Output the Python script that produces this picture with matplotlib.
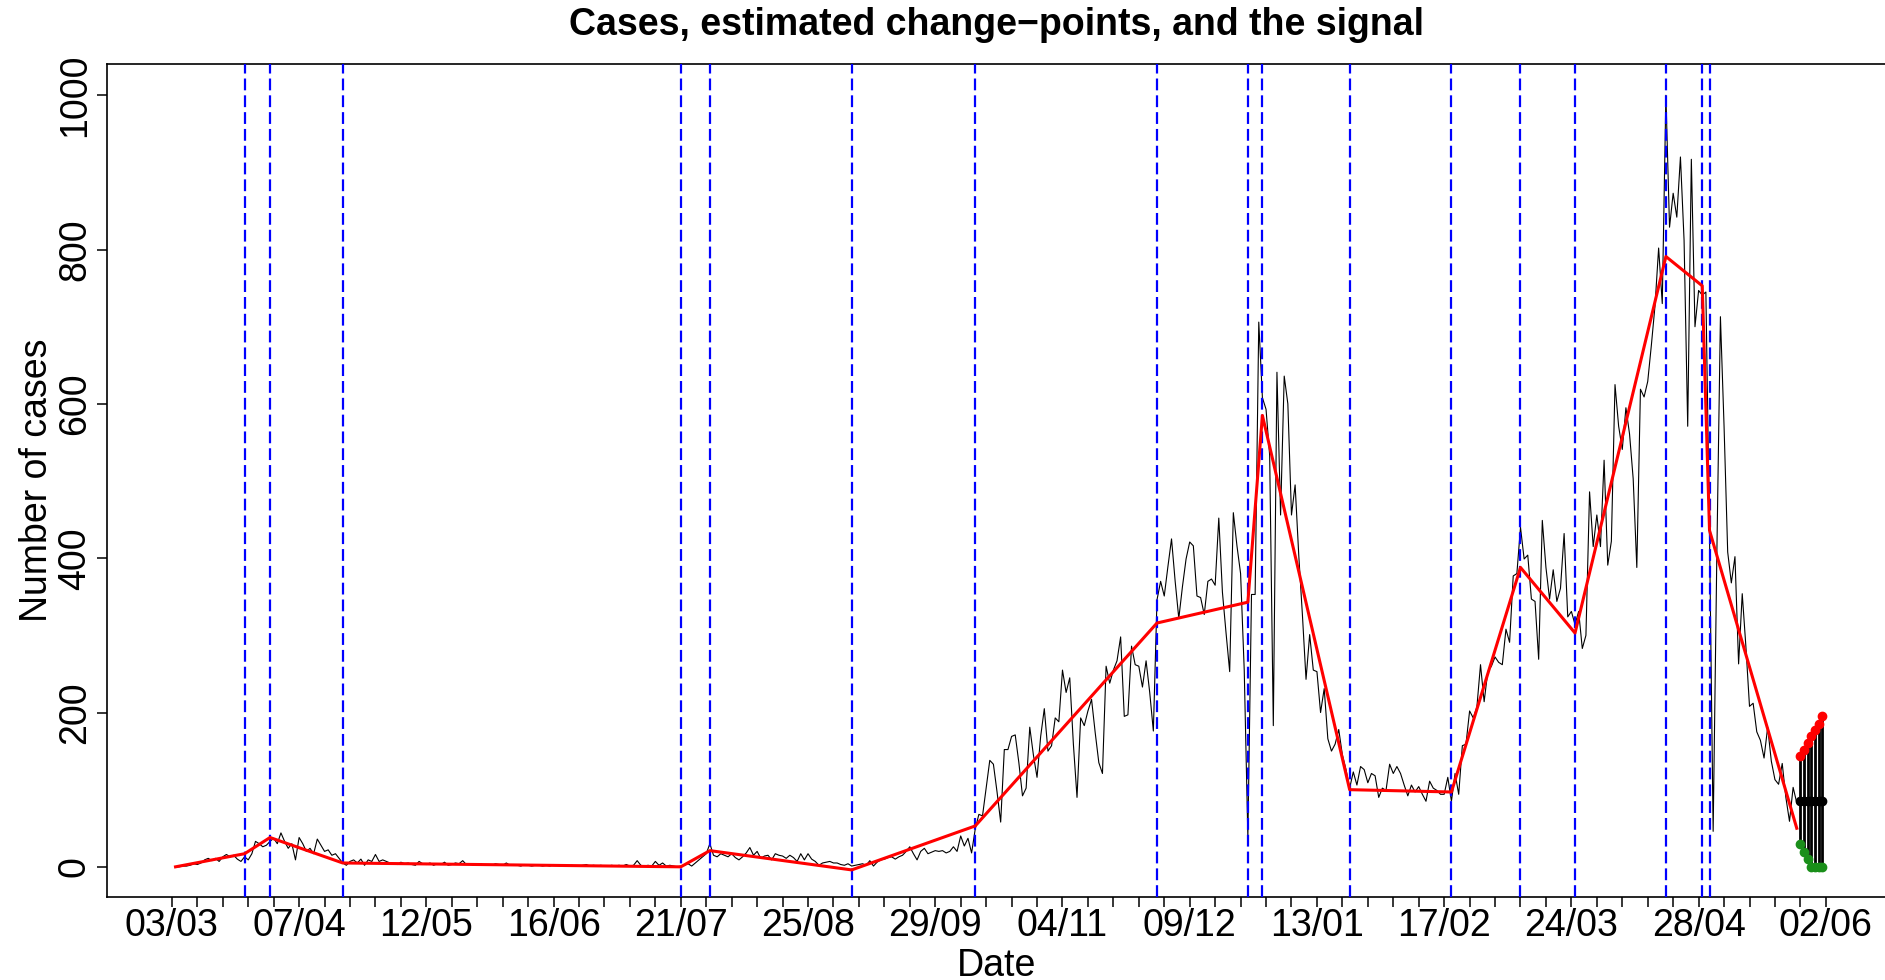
import numpy as np
import matplotlib
matplotlib.use("Agg")
import matplotlib.pyplot as plt
from matplotlib.ticker import FixedLocator, NullFormatter

# ---------------- data ----------------
# days counted from 03/03/2020 (day 0); daily cases start on day 1
first_case_day = 1
cases = [
    0, 0, 1, 1, 2, 4, 3, 5, 9, 11,
    8, 11, 7, 13, 16, 13, 15, 10, 7, 13,
    9, 17, 33, 30, 26, 28, 33, 37, 30, 44,
    33, 24, 30, 9, 38, 30, 20, 24, 17, 36,
    28, 20, 22, 15, 17, 11, 5, 2, 7, 9,
    5, 10, 2, 9, 7, 16, 7, 9, 7, 5,
    4, 3, 6, 4, 5, 3, 2, 7, 4, 3,
    5, 2, 4, 3, 6, 2, 3, 5, 4, 8,
    3, 4, 2, 3, 4, 2, 3, 2, 4, 3,
    2, 5, 2, 3, 2, 1, 3, 2, 1, 2,
    2, 1, 2, 1, 3, 2, 1, 2, 1, 2,
    1, 1, 2, 3, 1, 2, 1, 2, 1, 1,
    2, 1, 2, 1, 3, 1, 2, 8, 2, 1,
    2, 1, 7, 2, 5, 1, 2, 1, 0, 1,
    2, 4, 1, 5, 9, 13, 17, 30, 15, 13,
    17, 15, 13, 17, 12, 9, 13, 18, 25, 15,
    20, 11, 14, 15, 9, 17, 15, 14, 11, 15,
    12, 7, 17, 9, 17, 10, 7, 2, 5, 6,
    7, 5, 5, 3, 2, 4, 1, 2, 3, 4,
    2, 8, 1, 6, 9, 10, 12, 13, 10, 13,
    15, 20, 26, 17, 9, 20, 24, 17, 19, 21,
    20, 21, 18, 20, 26, 20, 40, 27, 37, 18,
    49, 68, 66, 102, 138, 133, 97, 58, 152, 152,
    169, 171, 135, 92, 102, 181, 145, 116, 169, 205,
    150, 157, 193, 188, 255, 226, 245, 159, 90, 193,
    183, 202, 217, 174, 135, 121, 260, 238, 255, 267,
    298, 195, 197, 286, 262, 260, 233, 267, 226, 176,
    346, 370, 351, 389, 425, 370, 322, 363, 399, 421,
    416, 351, 349, 327, 370, 373, 365, 452, 356, 303,
    253, 459, 416, 380, 255, 39, 353, 353, 706, 608,
    593, 533, 183, 641, 456, 636, 600, 456, 495, 404,
    327, 243, 301, 255, 253, 200, 231, 166, 150, 159,
    178, 145, 126, 102, 123, 106, 130, 126, 109, 121,
    118, 90, 102, 99, 133, 121, 130, 121, 106, 92,
    106, 97, 104, 94, 85, 111, 102, 99, 94, 94,
    116, 85, 121, 94, 157, 159, 202, 193, 207, 262,
    214, 253, 260, 272, 265, 262, 308, 291, 377, 380,
    440, 399, 404, 347, 344, 269, 449, 388, 347, 385,
    344, 361, 432, 324, 331, 314, 331, 283, 300, 486,
    415, 456, 415, 527, 391, 422, 625, 571, 541, 595,
    561, 503, 388, 619, 609, 629, 676, 727, 802, 730,
    1000, 829, 873, 842, 920, 812, 571, 917, 700, 747,
    741, 745, 430, 46, 400, 713, 571, 408, 368, 402,
    263, 354, 286, 208, 212, 175, 164, 141, 181, 137,
    113, 107, 134, 90, 59, 103, 83,
]

change_points = [20, 27, 47, 140, 148, 187, 221, 271, 296, 300,
                 324, 352, 371, 386, 411, 421, 423]

signal_days = [1, 20, 27, 47, 140, 148, 187, 221, 271, 296, 300,
               324, 352, 371, 386, 411, 421, 423, 447]
signal_vals = [0, 17, 38, 5, 0, 21, -4, 53, 316, 343, 585,
               100, 97, 388, 303, 791, 753, 436, 50]

forecast_days = [448, 449, 450, 451, 452, 453, 454]
forecast_upper = [143, 151, 160, 169, 177, 185, 195]
forecast_mid = [85, 85, 85, 85, 85, 85, 85]
forecast_lower = [29, 19, 10, 0, 0, 0, 0]

tick_labels = ["03/03", "07/04", "12/05", "16/06", "21/07", "25/08", "29/09",
               "04/11", "09/12", "13/01", "17/02", "24/03", "28/04", "02/06"]
y_ticks = [0, 200, 400, 600, 800, 1000]

title = "Cases, estimated change\u2212points, and the signal"

# ---------------- figure ----------------
plt.rcParams["font.family"] = ["Liberation Sans", "DejaVu Sans"]
plt.rcParams["lines.scale_dashes"] = False

W, H, DPI = 1885, 980, 100
fig = plt.figure(figsize=(W / DPI, H / DPI), dpi=DPI)
left_px, right_px, top_px, bottom_px = 107, 1886, 63.7, 897
ax = fig.add_axes([left_px / W, 1 - bottom_px / H,
                   (right_px - left_px) / W, (bottom_px - top_px) / H])

days = np.arange(first_case_day, first_case_day + len(cases))
ax.plot(days, cases, color="black", lw=0.8, zorder=2)

for cp in change_points:
    ln = ax.axvline(cp, color="#0000FF", lw=1.6, zorder=3)
    ln.set_dashes([8.5, 3.6])

ax.plot(signal_days, signal_vals, color="#FF0000", lw=2.2, zorder=4)

ax.vlines(forecast_days, forecast_lower, forecast_upper, color="black",
          lw=2.0, zorder=5)
ax.plot(forecast_days, forecast_upper, "o", color="#FF0000", ms=6, zorder=6)
ax.plot(forecast_days, forecast_mid, "o", color="black", ms=6, zorder=6)
ax.plot(forecast_days, forecast_lower, "o", color="#1a8f1a", ms=6, zorder=6)

ax.set_xlim(-17.85, 471.55)
ax.set_ylim(-39.1, 1040.9)

major = np.arange(len(tick_labels)) * 35
minor = np.arange(0, major[-1] + 1, 7)
ax.xaxis.set_major_locator(FixedLocator(major))
ax.xaxis.set_minor_locator(FixedLocator(minor))
ax.set_xticklabels(tick_labels)
ax.xaxis.set_minor_formatter(NullFormatter())
ax.yaxis.set_major_locator(FixedLocator(y_ticks))
ax.set_yticklabels([str(v) for v in y_ticks])

ax.tick_params(axis="x", which="both", length=7.2, width=1.1, direction="out",
               labelsize=27, pad=0.5, colors="black")
ax.tick_params(axis="y", length=7.2, width=1.1, direction="out",
               labelsize=27, pad=2.9, labelrotation=90)
for lbl in ax.get_yticklabels():
    lbl.set_va("center")

for s in ax.spines.values():
    s.set_linewidth(1.2)
    s.set_color("black")

ax.set_xlabel("Date", fontsize=27)
ax.set_ylabel("Number of cases", fontsize=27)
ax.xaxis.set_label_coords(0.5, -0.0607)
ax.yaxis.set_label_coords(-0.0292, 0.5)

ax.set_title(title, fontsize=27, fontweight="bold", pad=20.5)

fig.savefig("out.png", dpi=DPI)
